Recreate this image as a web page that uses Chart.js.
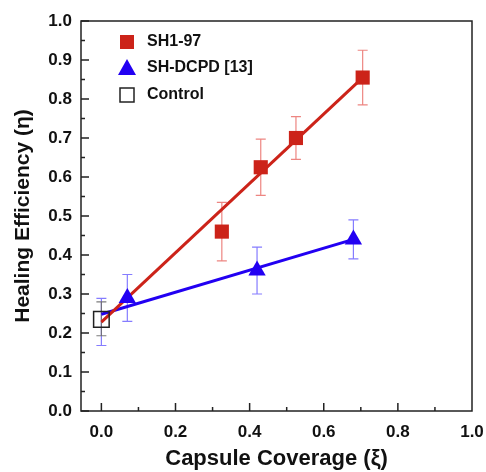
<!DOCTYPE html>
<html>
<head>
<meta charset="utf-8">
<script src="https://cdn.jsdelivr.net/npm/chart.js@4"></script>
<style>
  html, body { margin: 0; padding: 0; background: #fff; }
  #wrap { width: 486px; height: 472px; }
</style>
</head>
<body>
<div id="wrap"><canvas id="chart"></canvas></div>
<script>
// valores
const sh197X = [0.325, 0.43, 0.525, 0.705];
const sh197Y = [0.46, 0.625, 0.70, 0.855];
const sh197Err = [0.075, 0.072, 0.055, 0.07];

const dcpdX = [0.07, 0.42, 0.68];
const dcpdY = [0.29, 0.36, 0.44];
const dcpdErr = [0.06, 0.06, 0.05];

const controlX = [0];
const controlY = [0.235];
const controlErrLo = [0.193];
const controlErrHi = [0.28];
// barra azul en xi = 0
const dcpdZeroLo = 0.168;
const dcpdZeroHi = 0.289;

// rectas de ajuste (extremos)
const fitRedX = [0, 0.705];
const fitRedY = [0.228, 0.855];
const fitBlueX = [0, 0.68];
const fitBlueY = [0.248, 0.44];

const xTicks = [0, 0.2, 0.4, 0.6, 0.8, 1.0];

const RED = '#cc2319';
const BLUE = '#2200f2';
const FONT = '"Liberation Sans", Arial, sans-serif';

const pts = (xs, ys) => xs.map((x, i) => ({ x: x, y: ys[i] }));

const errorBars = {
    id: 'errorBars',
    beforeDatasetsDraw(chart) {
        const { ctx, scales: { x, y } } = chart;
        const bar = (px, lo, hi) => {
            const xp = x.getPixelForValue(px);
            const y1 = y.getPixelForValue(lo);
            const y2 = y.getPixelForValue(hi);
            ctx.beginPath();
            ctx.moveTo(xp, y1); ctx.lineTo(xp, y2);
            ctx.moveTo(xp - 5, y1); ctx.lineTo(xp + 5, y1);
            ctx.moveTo(xp - 5, y2); ctx.lineTo(xp + 5, y2);
            ctx.stroke();
        };
        ctx.save();
        ctx.lineWidth = 1.2;
        ctx.strokeStyle = 'rgba(120,110,255,0.9)';
        bar(0, dcpdZeroLo, dcpdZeroHi);
        dcpdX.forEach((v, i) => bar(v, dcpdY[i] - dcpdErr[i], dcpdY[i] + dcpdErr[i]));
        ctx.strokeStyle = 'rgba(235,120,115,0.9)';
        sh197X.forEach((v, i) => bar(v, sh197Y[i] - sh197Err[i], sh197Y[i] + sh197Err[i]));
        ctx.strokeStyle = 'rgba(110,110,110,0.9)';
        controlX.forEach((v, i) => bar(v, controlErrLo[i], controlErrHi[i]));
        ctx.restore();
    }
};

const frame = {
    id: 'frame',
    afterDatasetsDraw(chart) {
        const { ctx, chartArea: a, scales: { x, y } } = chart;
        ctx.save();
        ctx.strokeStyle = '#222';
        ctx.lineWidth = 1.5;
        ctx.strokeRect(a.left, a.top, a.right - a.left, a.bottom - a.top);
        ctx.beginPath();
        for (let v = 0; v <= 1.0001; v += 0.05) {
            const major = Math.abs(v * 10 - Math.round(v * 10)) < 1e-6;
            const p = y.getPixelForValue(v);
            ctx.moveTo(a.left, p); ctx.lineTo(a.left + (major ? 8 : 4), p);
        }
        for (let v = 0; v <= 0.9001; v += 0.1) {
            const major = Math.round(v * 10) % 2 === 0;
            const p = x.getPixelForValue(v);
            ctx.moveTo(p, a.bottom); ctx.lineTo(p, a.bottom - (major ? 8 : 4));
        }
        ctx.stroke();

        // leyenda
        ctx.font = 'bold 16px ' + FONT;
        ctx.textBaseline = 'middle';
        ctx.fillStyle = '#111';
        ctx.fillText('SH1-97', 147, 42);
        ctx.fillText('SH-DCPD [13]', 147, 68);
        ctx.fillText('Control', 147, 95);
        ctx.fillStyle = RED;
        ctx.fillRect(120, 35, 14, 14);
        ctx.fillStyle = BLUE;
        ctx.beginPath();
        ctx.moveTo(127, 59); ctx.lineTo(136, 75); ctx.lineTo(118, 75);
        ctx.closePath(); ctx.fill();
        ctx.strokeStyle = '#222';
        ctx.lineWidth = 1.5;
        ctx.strokeRect(120, 88, 14, 14);
        ctx.restore();
    }
};

new Chart(document.getElementById('chart'), {
    type: 'scatter',
    data: {
        datasets: [
            {
                label: 'SH1-97',
                data: pts(sh197X, sh197Y),
                pointStyle: 'rect',
                pointRadius: 10,
                backgroundColor: RED,
                borderColor: RED,
                borderWidth: 0,
                order: 0
            },
            {
                label: 'SH-DCPD [13]',
                data: pts(dcpdX, dcpdY),
                pointStyle: 'triangle',
                pointRadius: 10,
                backgroundColor: BLUE,
                borderColor: BLUE,
                borderWidth: 0,
                order: 0
            },
            {
                label: 'Control',
                data: pts(controlX, controlY),
                pointStyle: 'rect',
                pointRadius: 11,
                backgroundColor: 'rgba(255,255,255,0)',
                borderColor: '#222',
                borderWidth: 1.5,
                order: 0
            },
            {
                label: 'fit red',
                data: pts(fitRedX, fitRedY),
                showLine: true,
                pointRadius: 0,
                borderColor: RED,
                borderWidth: 3,
                order: 1
            },
            {
                label: 'fit blue',
                data: pts(fitBlueX, fitBlueY),
                showLine: true,
                pointRadius: 0,
                borderColor: BLUE,
                borderWidth: 3,
                order: 2
            }
        ]
    },
    options: {
        responsive: true,
        maintainAspectRatio: false,
        animation: false,
        layout: { padding: { top: 21, right: 14, left: 0, bottom: 0 } },
        plugins: {
            legend: { display: false },
            tooltip: { enabled: false }
        },
        scales: {
            x: {
                type: 'linear',
                min: -0.055,
                max: 1.0,
                grid: { display: false, drawTicks: false },
                border: { display: false },
                afterBuildTicks: (s) => { s.ticks = xTicks.map(v => ({ value: v })); },
                afterFit: (s) => { s.height = 61; s.paddingRight = 0; s.paddingLeft = 0; },
                ticks: {
                    padding: 11,
                    color: '#111',
                    font: { family: FONT, size: 17, weight: 'bold' },
                    callback: (v) => Number(v).toFixed(1)
                },
                title: {
                    display: true,
                    text: 'Capsule Coverage (ξ)',
                    color: '#111',
                    padding: { top: 2, bottom: 0 },
                    font: { family: FONT, size: 22, weight: 'bold' }
                }
            },
            y: {
                min: 0,
                max: 1.0,
                grid: { display: false, drawTicks: false },
                border: { display: false },
                afterFit: (s) => { s.width = 81; s.paddingTop = 0; s.paddingBottom = 0; },
                ticks: {
                    stepSize: 0.1,
                    padding: 9,
                    color: '#111',
                    font: { family: FONT, size: 17, weight: 'bold' },
                    callback: (v) => Number(v).toFixed(1)
                },
                title: {
                    display: true,
                    text: 'Healing Efficiency (η)',
                    color: '#111',
                    padding: { top: 11, bottom: 4 },
                    font: { family: FONT, size: 21, weight: 'bold' }
                }
            }
        }
    },
    plugins: [errorBars, frame]
});
</script>
</body>
</html>
